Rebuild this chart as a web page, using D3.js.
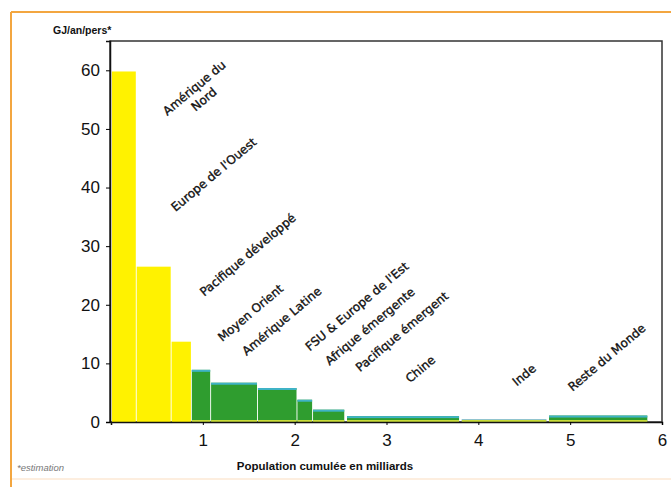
<!DOCTYPE html>
<html><head><meta charset="utf-8">
<script src="https://cdn.jsdelivr.net/npm/d3@7"></script>
<style>
html,body{margin:0;padding:0;background:#fff;}
svg{display:block;}
</style></head>
<body>
<svg id="c" width="671" height="487"></svg>
<script>
// ---- data ----
const regions = ["Amérique du Nord","Europe de l'Ouest","Pacifique développé","Moyen Orient","Amérique Latine","FSU & Europe de l'Est","Afrique émergente","Pacifique émergent","Chine","Inde","Reste du Monde"];
const popStart = [0.01,0.28,0.66,0.88,1.09,1.60,2.03,2.20,2.57,3.82,4.77];
const popEnd   = [0.27,0.65,0.87,1.08,1.59,2.02,2.19,2.54,3.79,4.74,5.84];
const energy   = [59.8,26.5,13.7,8.9,6.7,5.8,3.8,2.1,1.0,0.5,1.1];
const group    = ["dev","dev","dev","em","em","em","em","em","em","in","em"];
const xTicks = [1,2,3,4,5,6];
const yTicks = [0,10,20,30,40,50,60];
// label anchor (centre) in data units
const labelLines = [["Amérique du","Nord"],["Europe de l'Ouest"],["Pacifique développé"],["Moyen Orient"],["Amérique Latine"],["FSU & Europe de l'Est"],["Afrique émergente"],["Pacifique émergent"],["Chine"],["Inde"],["Reste du Monde"]];
const labelX = [0.96,1.12,1.49,1.52,1.86,2.68,2.82,3.17,3.37,4.50,5.40];
const labelY = [56.0,42.2,28.5,18.6,17.2,19.7,16.3,15.4,9.0,8.0,11.0];

const svg = d3.select("#c");
const x = d3.scaleLinear().domain([0,6]).range([111,662]);
const y = d3.scaleLinear().domain([0,65]).range([422,41]);

// outer orange frame
svg.append("line").attr("x1",11).attr("x2",671).attr("y1",12).attr("y2",12).attr("stroke","#f3a640").attr("stroke-width",2);
svg.append("line").attr("x1",11).attr("x2",11).attr("y1",12).attr("y2",487).attr("stroke","#f3a640").attr("stroke-width",2);
svg.append("line").attr("x1",12).attr("x2",671).attr("y1",479).attr("y2",479).attr("stroke","#fde9d4").attr("stroke-width",1.5);

// plot box
svg.append("rect").attr("x",x(0)-1).attr("y",y(65)).attr("width",x(6)-x(0)+1).attr("height",y(0)-y(65))
  .attr("fill","none").attr("stroke","#333").attr("stroke-width",1.5);

const fillOf = g => g==="dev" ? "#fff200" : (g==="in" ? "#a9c9c4" : "#2f9d2f");
const topOf = g => g==="dev" ? "#fff200" : (g==="in" ? "#8fc3cf" : "#3fb3c6");

const bars = svg.append("g");
regions.forEach((r,i)=>{
  const x0 = x(popStart[i]), x1 = x(popEnd[i]);
  const yt = y(energy[i]);
  bars.append("rect").attr("x",x0).attr("y",yt).attr("width",x1-x0).attr("height",y(0)-yt).attr("fill",fillOf(group[i]));
  if(group[i]!=="dev"){
    bars.append("rect").attr("x",x0).attr("y",yt).attr("width",x1-x0).attr("height",2).attr("fill",topOf(group[i]));
    bars.append("rect").attr("x",x0).attr("y",y(0)-2).attr("width",x1-x0).attr("height",2).attr("fill","#c8dc3a");
  }
});

// axes
const yAxis = d3.axisLeft(y).tickValues(yTicks).tickFormat(d3.format("d")).tickSize(4).tickPadding(6);
const gy = svg.append("g").attr("transform",`translate(${x(0)-1},0)`).call(yAxis);
gy.select(".domain").attr("stroke","#111").attr("stroke-width",1.5);
gy.selectAll("text").attr("font-family","Liberation Sans, Arial, sans-serif").attr("font-size",17).attr("fill","#111");
const xAxis = d3.axisBottom(x).tickValues(xTicks).tickFormat(d3.format("d")).tickSize(3).tickPadding(9);
const gx = svg.append("g").attr("transform",`translate(0,${y(0)})`).call(xAxis);
gx.select(".domain").attr("stroke","#111").attr("stroke-width",1.5);
gx.selectAll("text").attr("font-family","Liberation Sans, Arial, sans-serif").attr("font-size",17).attr("fill","#111");

// titles
svg.append("text").attr("x",53).attr("y",34).attr("font-family","Liberation Sans, Arial, sans-serif").attr("font-weight","bold").attr("font-size",10.5).attr("fill","#111").text("GJ/an/pers*");
svg.append("text").attr("x",325).attr("y",470).attr("text-anchor","middle").attr("font-family","Liberation Sans, Arial, sans-serif").attr("font-weight","bold").attr("font-size",11.5).attr("fill","#111").text("Population cumulée en milliards");
svg.append("text").attr("x",17).attr("y",471).attr("font-family","Liberation Sans, Arial, sans-serif").attr("font-style","italic").attr("font-size",9.5).attr("fill","#777").text("*estimation");

// region labels
const lg = svg.append("g");
regions.forEach((r,i)=>{
  const t = lg.append("text")
    .attr("transform",`translate(${x(labelX[i])},${y(labelY[i])}) rotate(-40)`)
    .attr("text-anchor","middle")
    .attr("font-family","DejaVu Sans, sans-serif").attr("font-size",12).attr("fill","#111")
    .attr("stroke","#111").attr("stroke-width",0.35);
  const n = labelLines[i].length;
  labelLines[i].forEach((s,k)=>{
    t.append("tspan").attr("x",0).attr("dy", k===0 ? (4 - (n-1)*7.5) : 15).text(s);
  });
});
</script>
</body></html>
